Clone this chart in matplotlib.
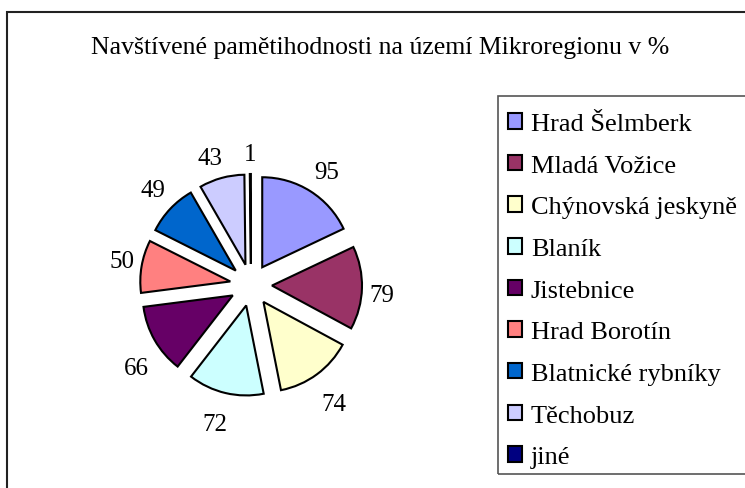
import numpy as np
import matplotlib.pyplot as plt
from matplotlib.patches import Rectangle

plt.rcParams['font.family'] = ['Liberation Serif', 'DejaVu Serif']

mista = ['Hrad Šelmberk', 'Mladá Vožice', 'Chýnovská jeskyně', 'Blaník',
         'Jistebnice', 'Hrad Borotín', 'Blatnické rybníky', 'Těchobuz', 'jiné']
procenta = [95, 79, 74, 72, 66, 50, 49, 43, 1]
barvy = ['#9999FF', '#993366', '#FFFFCC', '#CCFFFF', '#660066',
         '#FF8080', '#0066CC', '#CCCCFF', '#000080']

fig = plt.figure(figsize=(7.45, 4.89), dpi=100)
ax = fig.add_axes([0, 0, 1, 1])

# outer chart border (right/bottom fall outside the image)
ax.add_patch(Rectangle((7, -20), 760, 489 - 13 + 20, fill=False,
                       edgecolor='#222222', linewidth=1.5))

stred = (251, 203)
r = 90
odsun = 21
wedges, texts = ax.pie(procenta, labels=[str(v) for v in procenta],
                       colors=barvy, startangle=90, counterclock=False,
                       center=stred, radius=r, explode=[odsun] * len(procenta),
                       labeldistance=1.0, frame=True,
                       wedgeprops=dict(edgecolor='black', linewidth=1.5),
                       textprops=dict(fontsize=18))
ax.set_xlim(0, 745)
ax.set_ylim(0, 489)
ax.set_aspect('equal')
ax.axis('off')

# excel-like label placement: text box sits just outside the slice
fig.canvas.draw()
rend = fig.canvas.get_renderer()
D = 97
for w, t in zip(wedges, texts):
    th = np.deg2rad((w.theta1 + w.theta2) / 2)
    c, s = np.cos(th), np.sin(th)
    hw = t.get_window_extent(rend).width / 2
    cx, cy = w.center
    t.set_ha('center')
    t.set_va('center_baseline')
    t.set_position((cx + D * c + hw * np.clip(c * 3, -1, 1),
                    cy + D * s + 19 * np.clip(s * 3, -1, 1) - 3))

ax.text(380, 489 - 48, 'Navštívené pamětihodnosti na území Mikroregionu v %',
        ha='center', va='center', fontsize=18.5)

# legend frame
ax.add_patch(Rectangle((498, 489 - 475), 300, 475 - 97, fill=False,
                       edgecolor='#555555', linewidth=1.2))
leg = ax.legend(wedges, mista, loc='upper left', bbox_to_anchor=(508 / 745, 1 - 114 / 489),
                frameon=False, fontsize=19, handlelength=0.53, handleheight=0.53,
                handletextpad=0.34, labelspacing=0.74, borderpad=0, borderaxespad=0)

fig.savefig('out.png', dpi=100)
